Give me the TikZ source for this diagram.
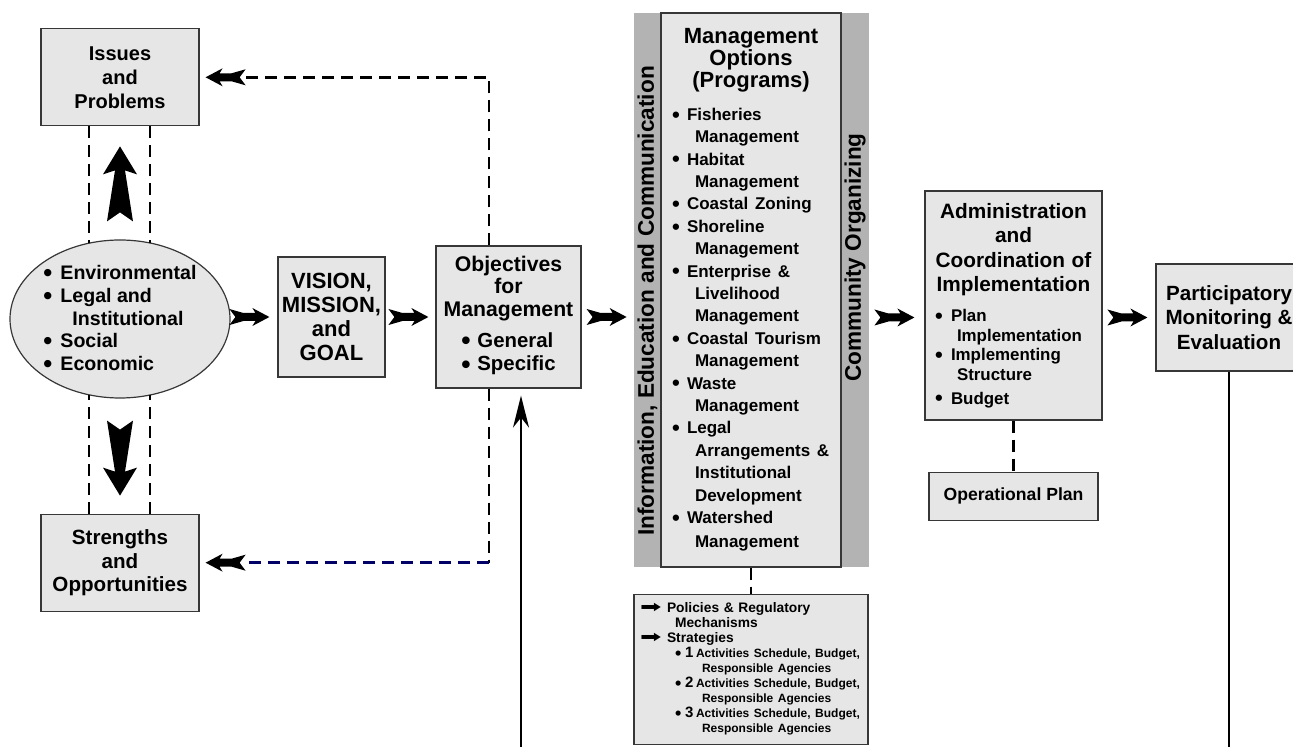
\documentclass[tikz,border=0pt]{standalone}
\usepackage{fontspec}
\setmainfont{Liberation Sans}
\newfontfamily\symbfont{DejaVu Sans}
\usepackage{tikz}
\usetikzlibrary{arrows.meta,positioning,calc,shapes.geometric}

\definecolor{boxgray}{RGB}{230,230,230}
\definecolor{bandgray}{RGB}{179,179,179}
\definecolor{edgegray}{RGB}{55,55,55}
\definecolor{fbnavy}{RGB}{0,0,102}

\newcommand{\bul}{\raisebox{-0.1em}{\scalebox{1.3}{\textbullet}}}
\newcommand{\itm}[1][7.5pt]{\makebox[#1][l]{\bul}}
\newcommand{\cont}[1][11.5pt]{\hspace*{#1}}
\newcommand{\arrw}{\makebox[13.5pt][l]{\scalebox{1.6}[1]{\symbfont\fontsize{8}{7.5}\selectfont ➡}}}
\newcommand{\act}[1]{\mbox{\makebox[5pt][l]{\bul}\makebox[5.5pt][l]{\fontsize{7.5}{7.5}\selectfont #1}{\fontsize{6}{7.5}\selectfont Activities Schedule, Budget,}}}
\newcommand{\resp}{\mbox{\fontsize{6}{7.5}\selectfont Responsible Agencies}}

\tikzset{
  fatarr/.pic={\fill (0,0) -- (-17,-9) -- (-14,-4) -- (-26,-4) -- (-40,-8) -- (-34,0)
                 -- (-40,8) -- (-26,4) -- (-14,4) -- (-17,9) -- cycle;},
  bigup/.pic={\fill (0,0) -- (17,28) -- (5,24) -- (13,75) -- (0,66) -- (-13,75)
                 -- (-5,24) -- (-17,28) -- cycle;}
}

\begin{document}
\begin{tikzpicture}[
  x=0.5pt, y=-0.5pt,
  box/.style={draw=edgegray, fill=boxgray, line width=0.6pt, align=center, inner sep=0pt},
  ttl/.style={font=\fontsize{10}{12}\selectfont\bfseries},
  dashline/.style={line width=1.25pt, dash pattern=on 6pt off 3.5pt},
  solidline/.style={line width=1pt}
]
\useasboundingbox (0,0) rectangle (1293,747);

% left column
\node[box, ellipse, minimum width=110pt, minimum height=79pt, align=left,
      font=\fontsize{9.8}{11.3}\selectfont\bfseries] (env) at (120,319)
  {\itm[8.5pt]Environmental\\ \itm[8.5pt]Legal and\\ \cont[14.5pt]Institutional\\
   \itm[8.5pt]Social\\ \itm[8.5pt]Economic};
\node[box, ttl, minimum width=79pt, minimum height=48.5pt, above=56.5pt of env] (issues)
  {Issues\\and\\Problems};
\node[box, minimum width=79pt, minimum height=48.5pt, below=57.5pt of env,
      font=\fontsize{10.3}{11.8}\selectfont\bfseries] (strengths)
  {Strengths\\and\\Opportunities};

% main chain
\node[box, minimum width=53.5pt, minimum height=60pt,
      font=\fontsize{11}{12}\selectfont\bfseries] (vision) at (331.5,317)
  {VISION,\\MISSION,\\and\\GOAL};
\node[box, minimum width=72.5pt, minimum height=71pt,
      font=\fontsize{10.6}{11.2}\selectfont\bfseries] (obj) at (508.5,317)
  {Objectives\\for\\Management\\[4.5pt]
   {\fontsize{10.2}{11.7}\selectfont
    \begin{tabular}[t]{@{}l@{}}\itm[8pt]General\\ \itm[8pt]Specific\end{tabular}}};

\node[fill=bandgray, minimum width=117.5pt, minimum height=277pt, inner sep=0pt] (band) at (751.5,290) {};
\node[box, minimum height=277pt, text width=79pt, inner xsep=5.5pt, align=left,
      font=\bfseries] (mgmt) at (751,290) {
  {\centering\fontsize{11}{10.85}\selectfont Management\\Options\\(Programs)\par}
  \vspace{5.3pt}
  \fontsize{8.5}{11.2}\selectfont
  \itm Fisheries\\ \cont Management\\
  \itm Habitat\\ \cont Management\\
  \itm Coastal Zoning\\
  \itm Shoreline\\ \cont Management\\
  \itm Enterprise \&\\ \cont Livelihood\\ \cont Management\\
  \itm Coastal Tourism\\ \cont Management\\
  \itm Waste\\ \cont Management\\
  \itm Legal\\ \cont Arrangements \&\\ \cont Institutional\\ \cont Development\\
  \itm Watershed\\ \cont Management};
\node[rotate=90, font=\fontsize{11.3}{12}\selectfont\bfseries] (iec) at (647.5,301)
  {Information, Education and Communication};
\node[rotate=90, font=\fontsize{11.3}{12}\selectfont\bfseries] (co) at (855,257.5)
  {Community Organizing};

\node[box, text width=114pt, inner xsep=1.5pt, minimum height=75pt, align=left,
      font=\fontsize{6.9}{7.5}\selectfont\bfseries, below=13pt of mgmt] (pol) {
  \cont[1.5pt]\arrw Policies \& Regulatory\\
  \cont[19pt]Mechanisms\\
  \cont[1.5pt]\arrw Strategies\\
  \cont[19pt]\act{1}\\ \cont[32.5pt]\resp\\
  \cont[19pt]\act{2}\\ \cont[32.5pt]\resp\\
  \cont[19pt]\act{3}\\ \cont[32.5pt]\resp};

\node[box, text width=78.5pt, inner xsep=5pt, minimum height=114.5pt, align=left,
      font=\bfseries] (admin) at (1013.5,305.5) {
  {\centering\fontsize{10.4}{12.2}\selectfont Administration\\and\\Coordination of\\Implementation\par}
  \vspace{5.2pt}
  \fontsize{8.45}{9.8}\selectfont
  \itm[8pt]Plan\\ \cont[11pt]Implementation\\
  \itm[8pt]Implementing\\ \cont[11pt]Structure\\
  \itm[8pt]Budget};
\node[box, minimum width=84.5pt, minimum height=24pt, below=25.5pt of admin,
      font=\fontsize{8.8}{10}\selectfont\bfseries] (opplan) {Operational Plan};
\node[box, minimum width=73pt, minimum height=53.5pt,
      font=\fontsize{10.3}{12.2}\selectfont\bfseries] (pme) at (1229,317.5)
  {Participatory\\Monitoring \&\\Evaluation};

% dashed pairs and big arrows
\draw[dashline] ([xshift=-15.5pt]issues.south) -- ([xshift=-15.5pt]issues.south |- env.112);
\draw[dashline] ([xshift=15pt]issues.south) -- ([xshift=15pt]issues.south |- env.68);
\draw[dashline] ([xshift=-15.5pt]strengths.north) -- ([xshift=-15.5pt]strengths.north |- env.248);
\draw[dashline] ([xshift=15pt]strengths.north) -- ([xshift=15pt]strengths.north |- env.292);
\pic at ($(issues.south)+(0,20)$) {bigup};
\pic[rotate=180] at ($(strengths.north)+(0,-18)$) {bigup};

% flow arrows
\pic at ([xshift=-4pt]vision.west) {fatarr};
\pic at ([xshift=-3.5pt]obj.west) {fatarr};
\pic at ([xshift=-3.5pt]band.west |- obj.east) {fatarr};
\pic at ([xshift=-5pt]admin.west |- pme.west) {fatarr};
\pic at ([xshift=-4pt]pme.west) {fatarr};

% feedback
\draw[dashline] ([xshift=-9.75pt]obj.north) |- ([xshift=21.5pt]issues.east);
\pic[rotate=180] at ([xshift=3pt]issues.east) {fatarr};
\draw[dashline] ([xshift=-9.75pt]obj.south) -- ([xshift=-9.75pt]obj.south |- strengths.east) coordinate (fbcorner);
\draw[dashline, draw=fbnavy] (fbcorner) -- ([xshift=21.5pt]strengths.east);
\pic[rotate=180] at ([xshift=3pt]strengths.east) {fatarr};

\coordinate (inflow) at (521,747);
\draw[solidline, -{Stealth[length=16pt,width=8pt,inset=5pt]}] (inflow) -- ([xshift=6.25pt,yshift=-3.5pt]obj.south);
\draw[dashline] (mgmt.south) -- (pol.north);
\draw[dashline] (admin.south) -- (opplan.north);
\coordinate (outflow) at (1229,747);
\draw[solidline] (pme.south) -- (outflow);
\end{tikzpicture}
\end{document}
